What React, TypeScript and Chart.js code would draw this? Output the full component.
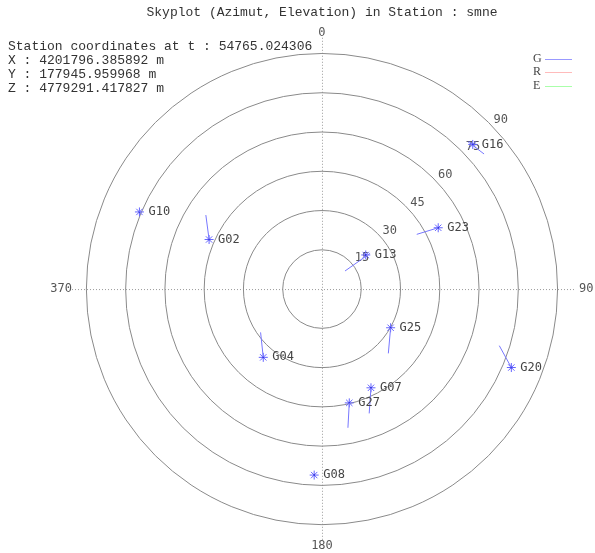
import { useEffect, useRef } from "react";
import { Chart, registerables } from "chart.js";
Chart.register(...registerables);

// ---- data ----
const satellites = ["G16", "G10", "G02", "G23", "G13", "G25", "G04", "G07", "G27", "G20", "G08"];
const azimuth = [46.2, 292.9, 293.7, 62.2, 52.1, 119.4, 220.7, 153.6, 166.5, 112.5, 182.4];
const elevation = [79.8, 75.7, 47.1, 50.2, 21.2, 30.1, 34.4, 42.1, 44.7, 78.3, 71.1];
const trackFromAz = [44.7, 292.9, 293.7, 62.2, 51.9, 119.4, 220.7, 153.6, 166.5, 112.5, 182.4];
const trackFromEl = [79.2, 75.7, 47.1, 50.2, 11.2, 30.1, 34.4, 42.1, 44.7, 78.3, 71.1];
const trackToAz = [50.2, 293.4, 302.5, 60.0, 53.4, 134.1, 234.8, 159.2, 169.4, 107.7, 182.6];
const trackToEl = [80.6, 75.9, 52.6, 41.8, 22.9, 35.3, 28.7, 50.8, 53.9, 71.1, 71.2];
const ringValues = [15, 30, 45, 60, 75, 90];
const ringLabelAz = 45;
const azLabels = ["0", "90", "180", "370"];
const azLabelAngles = [0, 90, 180, 270];
const legendLabels = ["G", "R", "E"];
const legendColors = ["#9999ff", "#ffbbbb", "#aaffaa"];
const titleText = "Skyplot (Azimut, Elevation) in Station : smne";
const stationLines = [
  "Station coordinates at t : 54765.024306",
  "X : 4201796.385892 m",
  "Y : 177945.959968 m",
  "Z : 4779291.417827 m",
];

const toXY = (az: number, el: number) => {
  const a = (az * Math.PI) / 180;
  return { x: el * Math.sin(a), y: el * Math.cos(a) };
};

const skyPlugin = {
  id: "sky",
  beforeDatasetsDraw(chart: any) {
    const ctx = chart.ctx;
    const xs = chart.scales.x;
    const ys = chart.scales.y;
    const cx = xs.getPixelForValue(0);
    const cy = ys.getPixelForValue(0);
    const unit = xs.getPixelForValue(1) - cx;
    const rMax = ringValues[ringValues.length - 1];
    ctx.save();
    // dotted cross
    ctx.strokeStyle = "#999";
    ctx.lineWidth = 1;
    ctx.setLineDash([1, 2]);
    ctx.beginPath();
    ctx.moveTo(cx + 0.5, cy - (rMax + 6) * unit);
    ctx.lineTo(cx + 0.5, cy + (rMax + 6) * unit);
    ctx.moveTo(cx - (rMax + 5.5) * unit, cy + 0.5);
    ctx.lineTo(cx + (rMax + 6.5) * unit, cy + 0.5);
    ctx.stroke();
    ctx.setLineDash([]);
    // rings
    ctx.strokeStyle = "#8a8a8a";
    ringValues.forEach((v) => {
      ctx.beginPath();
      ctx.arc(cx, cy, v * unit, 0, Math.PI * 2);
      ctx.stroke();
    });
    // ring labels
    ctx.fillStyle = "#555";
    ctx.font = "12px 'DejaVu Sans Mono'";
    ctx.textAlign = "left";
    ctx.textBaseline = "middle";
    ringValues.forEach((v) => {
      const p = toXY(ringLabelAz, v);
      ctx.fillText(String(v), xs.getPixelForValue(p.x) + 5, ys.getPixelForValue(p.y) - 3);
    });
    // azimuth labels
    azLabels.forEach((t, i) => {
      const a = azLabelAngles[i];
      const horiz = a === 90 || a === 270;
      const p = toXY(a, rMax + (horiz ? 5.5 : 8.3));
      const px = xs.getPixelForValue(p.x);
      const py = ys.getPixelForValue(p.y);
      if (a === 0) {
        ctx.textAlign = "center";
        ctx.fillText(t, px, py + 1);
      } else if (a === 180) {
        ctx.textAlign = "center";
        ctx.fillText(t, px, py - 1);
      } else if (a === 90) {
        ctx.textAlign = "left";
        ctx.fillText(t, px + 7, py);
      } else {
        ctx.textAlign = "right";
        ctx.fillText(t, px, py);
      }
    });
    ctx.restore();
  },
  afterDatasetsDraw(chart: any) {
    const ctx = chart.ctx;
    const meta = chart.getDatasetMeta(chart.data.datasets.length - 1);
    ctx.save();
    ctx.fillStyle = "#444";
    ctx.font = "12px 'DejaVu Sans Mono'";
    ctx.textAlign = "left";
    ctx.textBaseline = "middle";
    meta.data.forEach((pt: any, i: number) => {
      ctx.fillText(satellites[i], pt.x + 9, pt.y);
    });
    // title
    ctx.fillStyle = "#333";
    ctx.font = "13px 'Liberation Mono'";
    ctx.textAlign = "center";
    ctx.fillText(titleText, 322, 13);
    ctx.textAlign = "left";
    stationLines.forEach((l, i) => {
      ctx.fillText(l, 8, 47 + i * 14);
    });
    // legend
    ctx.font = "12px 'Liberation Serif'";
    legendLabels.forEach((l, i) => {
      const y = 58.5 + i * 13.5;
      ctx.fillStyle = "#444";
      ctx.fillText(l, 533, y);
      ctx.strokeStyle = legendColors[i];
      ctx.lineWidth = 1;
      ctx.beginPath();
      ctx.moveTo(545, Math.round(y) + 0.5);
      ctx.lineTo(572, Math.round(y) + 0.5);
      ctx.stroke();
    });
    ctx.restore();
  },
};

export default function App() {
  const ref = useRef<HTMLCanvasElement>(null);
  useEffect(() => {
    document.body.style.margin = "0";
    const trackSets = satellites.map((s, i) => {
      const a = toXY(trackFromAz[i], trackFromEl[i]);
      const b = toXY(trackToAz[i], trackToEl[i]);
      return {
        label: s + " track",
        data: [a, b],
        showLine: true,
        borderColor: "#7777ff",
        borderWidth: 1,
        pointRadius: 0,
      };
    });
    const centers = {
      label: "centers",
      data: satellites.map((_, i) => toXY(azimuth[i], elevation[i])),
      pointStyle: "rect",
      pointRadius: 1,
      backgroundColor: "#2222cc",
      borderColor: "#2222cc",
      borderWidth: 0,
    };
    const stars = {
      label: "satellites",
      data: satellites.map((_, i) => toXY(azimuth[i], elevation[i])),
      pointStyle: "star",
      pointRadius: 4.5,
      borderColor: "#6464ff",
      backgroundColor: "#6464ff",
      borderWidth: 1,
    };
    const chart = new Chart(ref.current!, {
      type: "scatter",
      data: { datasets: [...trackSets, centers, stars] as any },
      options: {
        animation: false,
        responsive: false,
        maintainAspectRatio: false,
        events: [],
        layout: { padding: 0, autoPadding: false },
        plugins: { legend: { display: false }, tooltip: { enabled: false }, title: { display: false } },
        scales: {
          x: { type: "linear", display: false, min: -123.0, max: 104.3 },
          y: { type: "linear", display: false, min: -100.8, max: 110.4 },
        },
      },
      plugins: [skyPlugin],
    });
    return () => chart.destroy();
  }, []);
  return <canvas ref={ref} width={595} height={553} style={{ display: "block" }} />;
}
